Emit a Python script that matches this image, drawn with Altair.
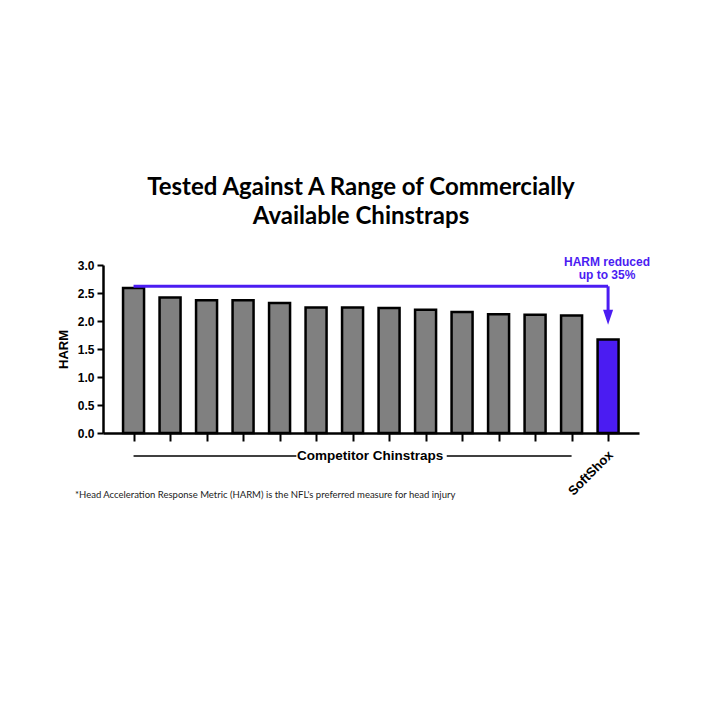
import altair as alt
import pandas as pd

# ---- data ----
names = [f"Competitor {i}" for i in range(1, 14)] + ["SoftShox"]
harm = [2.59, 2.42, 2.37, 2.37, 2.32, 2.24, 2.24, 2.23, 2.20, 2.16, 2.12, 2.11, 2.10, 1.67]
groups = ["Competitor"] * 13 + ["SoftShox"]
y_ticks = [0.0, 0.5, 1.0, 1.5, 2.0, 2.5, 3.0]
title_lines = ["Tested Against A Range of Commercially", "Available Chinstraps"]
annot_lines = ["HARM reduced", "up to 35%"]
footnote = "*Head Acceleration Response Metric (HARM) is the NFL's preferred measure for head injury"
group_label = "Competitor Chinstraps"
softshox_label = "SoftShox"

BLUE = "#4B1CF2"
GRAY = "#808080"
AX_FONT = "Liberation Sans"

df = pd.DataFrame({"idx": list(range(len(names))), "name": names, "harm": harm, "group": groups})

xscale = alt.Scale(domain=[-0.70, 13.71], nice=False, zero=False)
yscale = alt.Scale(domain=[0, 3], nice=False)

xaxis = alt.Axis(values=list(range(len(names))), labels=False, title=None, grid=False,
                 tickSize=8, tickWidth=2, tickColor="black", domainColor="black",
                 domainWidth=2.5, zindex=1)
yaxis = alt.Axis(values=y_ticks, format=".1f", grid=False, title="HARM",
                 labelOverlap=False, labelFlush=False,
                 titleFont=AX_FONT, titleFontSize=13, titleFontWeight="bold",
                 titleColor="black", titlePadding=7,
                 labelFont=AX_FONT, labelFontSize=12, labelFontWeight="bold",
                 labelColor="black", labelPadding=3,
                 tickSize=6, tickWidth=2, tickColor="black",
                 domainColor="black", domainWidth=2.5, zindex=1)


def X(field):
    return alt.X(field, scale=xscale, axis=xaxis)


def Y(field):
    return alt.Y(field, scale=yscale, axis=yaxis)


bars = alt.Chart(df).mark_bar(width=21, stroke="black", strokeWidth=2.5).encode(
    x=X("idx:Q"),
    y=Y("harm:Q"),
    color=alt.Color("group:N", scale=alt.Scale(domain=["Competitor", "SoftShox"], range=[GRAY, BLUE]),
                    legend=None),
)

# arrow annotation (from the top competitor to SoftShox)
top_val = 2.62
arrow_h = pd.DataFrame({"x": [0], "x2": [len(names) - 1], "y": [top_val]})
arrow_v = pd.DataFrame({"x": [len(names) - 1], "y": [top_val], "y2": [2.18]})
arrow_head = pd.DataFrame({"x": [len(names) - 1], "y": [2.065]})

h_line = alt.Chart(arrow_h).mark_rule(color=BLUE, strokeWidth=3).encode(
    x=X("x:Q"), x2="x2:Q", y=Y("y:Q"))
v_line = alt.Chart(arrow_v).mark_rule(color=BLUE, strokeWidth=3).encode(
    x=X("x:Q"), y=Y("y:Q"), y2="y2:Q")
head = alt.Chart(arrow_head).mark_point(
    shape="M-0.67,-1L0.67,-1L0,1Z", filled=True, size=225, color=BLUE, opacity=1, strokeWidth=0
).encode(x=X("x:Q"), y=Y("y:Q"))

annot_layers = []
for line, py in zip(annot_lines, [-3, 10]):
    annot_layers.append(
        alt.Chart(pd.DataFrame({"x": [len(names) - 1.03], "t": [line]})).mark_text(
            font=AX_FONT, fontSize=12, fontWeight="bold", color=BLUE, align="center", baseline="middle"
        ).encode(x=X("x:Q"), y=alt.value(py), text="t:N")
    )

# group label with lines
grp_lines = pd.DataFrame({"x": [0, 8.58], "x2": [4.46, 12]})
grp_rule = alt.Chart(grp_lines).mark_rule(color="black", strokeWidth=1.5).encode(
    x=X("x:Q"), x2="x2:Q", y=alt.value(191))
grp_text = alt.Chart(pd.DataFrame({"x": [6.48], "t": [group_label]})).mark_text(
    font=AX_FONT, fontSize=13.5, fontWeight="bold", color="black", align="center", baseline="middle"
).encode(x=X("x:Q"), y=alt.value(191), text="t:N")

soft_text = alt.Chart(pd.DataFrame({"x": [len(names) - 0.92], "t": [softshox_label]})).mark_text(
    font=AX_FONT, fontSize=13, fontWeight="bold", color="black", align="right", baseline="middle",
    angle=315
).encode(x=X("x:Q"), y=alt.value(188), text="t:N")

foot = alt.Chart(pd.DataFrame({"t": [footnote]})).mark_text(
    font="Lato", fontSize=9.5, color="#222222", align="left", baseline="middle"
).encode(x=alt.value(-28), y=alt.value(230), text="t:N")

chart = alt.layer(bars, h_line, v_line, head, *annot_layers, grp_rule, grp_text, soft_text, foot).properties(
    width=536,
    height=168,
    background="white",
    title=alt.TitleParams(title_lines, font="Lato", fontSize=24, fontWeight="bold", color="black",
                          lineHeight=29, anchor="middle", dx=-10, offset=27),
    autosize=alt.AutoSizeParams(type="none"),
    padding={"left": 95, "top": 257, "right": 71, "bottom": 277},
).configure_view(stroke=None, strokeWidth=0)

chart.save("out.html", embed_options={"renderer": "svg", "actions": False})
